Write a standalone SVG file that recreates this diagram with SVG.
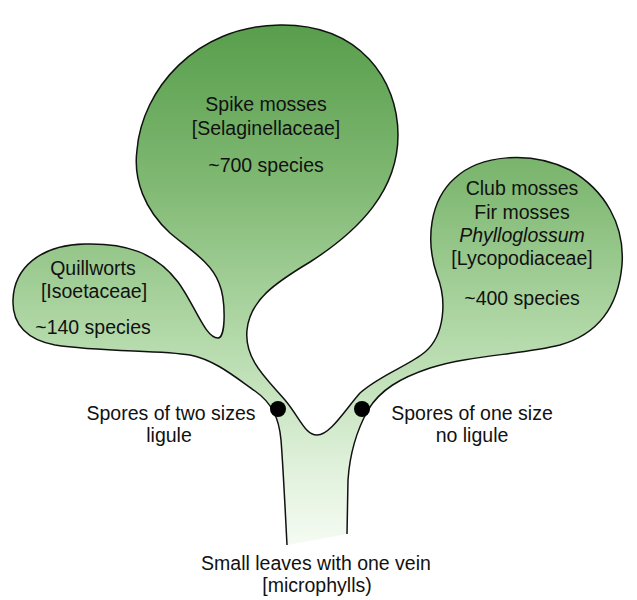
<svg xmlns="http://www.w3.org/2000/svg" width="637" height="600" viewBox="0 0 637 600">
  <style>
    text { font-family: "Liberation Sans", Arial, sans-serif; font-size: 19.5px; fill: #111; text-anchor: middle; }
    .it { font-style: italic; }
    .plant { stroke: #111; stroke-width: 1.5; fill: url(#g); }
    .dot { fill: #000; }
  </style>
  <defs>
    <linearGradient id="g" gradientUnits="userSpaceOnUse" x1="0" y1="25" x2="0" y2="545">
      <stop offset="0" stop-color="#589e4c"/>
      <stop offset="0.3" stop-color="#7fb872"/>
      <stop offset="0.6" stop-color="#b3d9a9"/>
      <stop offset="0.85" stop-color="#e0f1db"/>
      <stop offset="1" stop-color="#f5fbf3"/>
    </linearGradient>
  </defs>
  <rect width="637" height="600" fill="#fff"/>
  <g id="plant">
    <path class="plant" d="M 287,545 C 285,505 283,465 281,440 C 279,418 272,403 255,391 C 235,377 215,360 190,355 C 160,350 100,352 55,345 C 28,340 12,325 13,300 C 14,268 40,245 85,244 C 125,243 155,252 178,282 C 195,305 205,338 218,338 C 226,338 226,300 219,283 C 211,262 190,250 170,233 C 145,210 133,180 137,150 C 142,90 195,26 280,25 C 360,24 398,80 398,135 C 398,190 360,230 310,262 C 275,283 250,300 247,330 C 244,360 268,380 285,400 C 300,418 305,435 317,435 C 330,435 345,410 360,393 C 380,375 410,365 425,352 C 445,335 447,300 437,275 C 425,240 430,200 455,178 C 480,155 530,150 570,170 C 605,190 625,225 622,265 C 618,310 595,335 560,345 C 520,355 470,355 430,368 C 400,378 380,390 368,410 C 358,428 350,450 348,480 L 347,534"/>
  </g>
  <g id="spike-mosses">
    <text x="266" y="111">Spike mosses</text>
    <text x="266" y="135">[Selaginellaceae]</text>
    <text x="266" y="172">~700 species</text>
  </g>
  <g id="quillworts">
    <text x="93" y="275">Quillworts</text>
    <text x="94" y="298">[Isoetaceae]</text>
    <text x="93" y="334">~140 species</text>
  </g>
  <g id="club-mosses">
    <text x="522" y="195">Club mosses</text>
    <text x="522" y="219">Fir mosses</text>
    <text x="522" y="242" class="it">Phylloglossum</text>
    <text x="522" y="265">[Lycopodiaceae]</text>
    <text x="522" y="305">~400 species</text>
  </g>
  <g id="node-two-sizes">
    <circle class="dot" cx="278" cy="409" r="8"/>
    <text x="171" y="420">Spores of two sizes</text>
    <text x="169" y="442">ligule</text>
  </g>
  <g id="node-one-size">
    <circle class="dot" cx="362" cy="409" r="8"/>
    <text x="472" y="420">Spores of one size</text>
    <text x="472" y="442">no ligule</text>
  </g>
  <g id="base">
    <text x="316" y="570">Small leaves with one vein</text>
    <text x="317" y="592">[microphylls)</text>
  </g>
</svg>
